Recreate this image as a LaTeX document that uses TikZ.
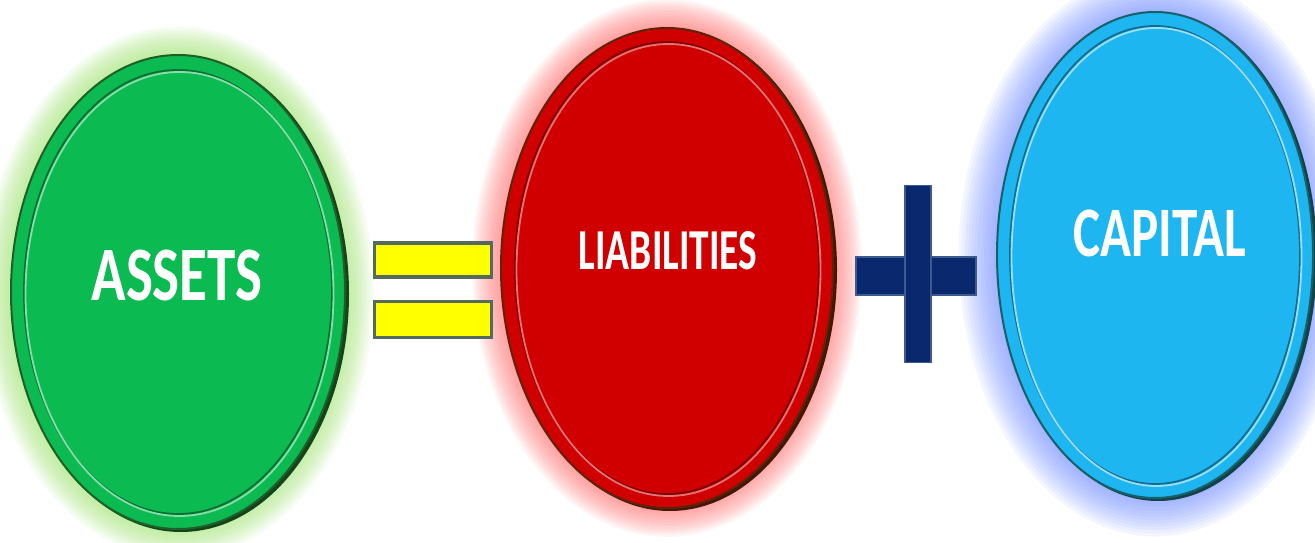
\documentclass[tikz,border=0pt]{standalone}
\usepackage{fontspec}
\setmainfont{Carlito}
\usetikzlibrary{shapes.geometric, positioning, calc, backgrounds}
\definecolor{assetgreen}{RGB}{12,186,82}
\definecolor{assetrim}{RGB}{30,95,40}
\definecolor{assetglow}{RGB}{160,230,110}
\definecolor{liabred}{RGB}{208,0,0}
\definecolor{liabrim}{RGB}{95,35,10}
\definecolor{liabglow}{RGB}{255,110,110}
\definecolor{capblue}{RGB}{30,182,240}
\definecolor{caprim}{RGB}{25,95,105}
\definecolor{capglow}{RGB}{110,140,255}
\definecolor{eqyellow}{RGB}{255,255,0}
\definecolor{eqedge}{RGB}{85,105,95}
\definecolor{plusnavy}{RGB}{10,40,110}
\definecolor{plusedge}{RGB}{60,90,140}

% soft halo round a coin: centre, x radius, y radius, colour, spread
\newcommand\coinhalo[5]{%
  \foreach \k in {1,...,12}{%
    \fill[#4, opacity=0.075] (#1) ellipse [x radius=#2pt+#5pt*\k, y radius=#3pt+#5pt*\k];}}

\begin{document}
\begin{tikzpicture}[x=1pt, y=-1pt,
        coin/.style={ellipse, inner sep=0pt, line width=2pt},
        rim/.style={line width=1.8pt},
        word/.style={text=white, inner sep=0pt, font=\bfseries},
        bar/.style={rectangle, inner sep=0pt, line width=3.5pt}]

    \useasboundingbox (0,0) rectangle (1315,543);

    % the three coins
    \node [coin, fill=assetgreen, draw=assetrim, minimum width=334pt, minimum height=474pt] (assets) at (178,292) {};
    \node [coin, fill=liabred, draw=liabrim, minimum width=332pt, minimum height=480pt] (liab) at (667,268) {};
    \node [coin, fill=capblue, draw=caprim, minimum width=316pt, minimum height=486pt] (capital) at (1155,255) {};

    % inner rims
    \draw [rim, draw=assetgreen!60!black] (assets.center) ellipse [x radius=154pt, y radius=222pt];
    \draw [rim, draw=assetgreen!50!white] ([xshift=1.5pt,yshift=-2pt]assets.center) ellipse [x radius=154pt, y radius=222pt];
    \draw [rim, draw=liabred!60!black] (liab.center) ellipse [x radius=152pt, y radius=226pt];
    \draw [rim, draw=liabred!55!white] ([xshift=1.5pt,yshift=-2pt]liab.center) ellipse [x radius=152pt, y radius=226pt];
    \draw [rim, draw=capblue!60!black] (capital.center) ellipse [x radius=145pt, y radius=229pt];
    \draw [rim, draw=capblue!45!white] ([xshift=1.5pt,yshift=-2pt]capital.center) ellipse [x radius=145pt, y radius=229pt];

    % labels
    \node [word, font=\fontsize{77}{80}\selectfont\bfseries] (assetstxt) at (177,276) {\scalebox{0.74}[1]{ASSETS}};
    \node [word, font=\fontsize{58}{60}\selectfont\bfseries] (liabtxt) at (668,251) {\scalebox{0.68}[1]{LIABILITIES}};
    \node [word, font=\fontsize{71}{74}\selectfont\bfseries] (capitaltxt) at (1160,233) {\scalebox{0.72}[1]{CAPITAL}};

    % equals sign
    \node [bar, fill=eqyellow, draw=eqedge, minimum width=117pt, minimum height=34pt] (eqtop) at (433,260) {};
    \node [bar, fill=eqyellow, draw=eqedge, minimum width=117pt, minimum height=36pt, below=21pt of eqtop] (eqbot) {};

    % plus sign
    \node [bar, fill=plusnavy, draw=plusedge, line width=1.5pt, minimum width=120pt, minimum height=38pt] (plush) at (916,276) {};
    \node [bar, fill=plusnavy, draw=plusedge, line width=1.5pt, minimum width=26pt, minimum height=177pt] (plusv) at (918,274) {};

    \begin{scope}[on background layer]
        \fill [white] (0,0) rectangle (1315,543);
        \coinhalo{assets.center}{167}{237}{assetglow}{2.4}
        \coinhalo{liab.center}{166}{240}{liabglow}{2.4}
        \coinhalo{capital.center}{158}{243}{capglow}{3.2}
        % dark edge on the lower right of each coin
        \fill [assetrim!70!black] ([xshift=3pt,yshift=-2pt]assets.center) ellipse [x radius=168pt, y radius=238pt];
        \fill [liabrim!70!black] ([xshift=3pt,yshift=-2pt]liab.center) ellipse [x radius=167pt, y radius=241pt];
        \fill [caprim!70!black] ([xshift=3pt,yshift=-2pt]capital.center) ellipse [x radius=159pt, y radius=244pt];
    \end{scope}
\end{tikzpicture}
\end{document}
